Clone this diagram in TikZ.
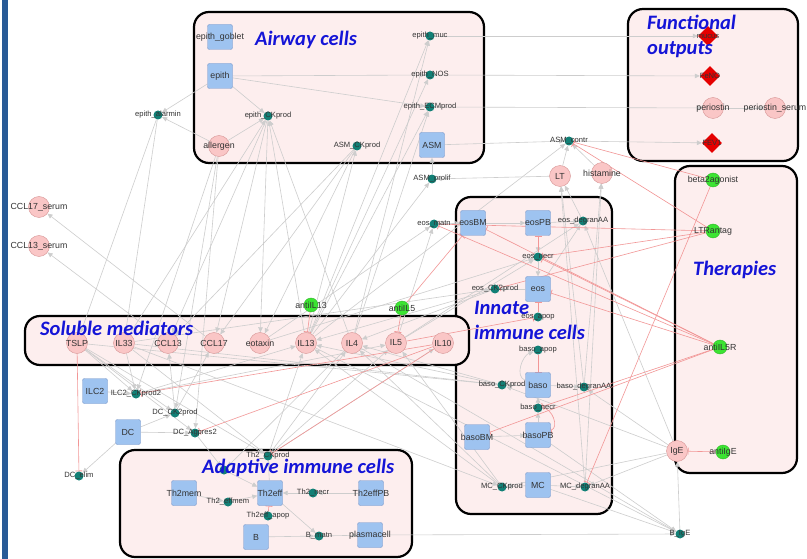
\documentclass[tikz,border=0pt]{standalone}
\usepackage{fontspec}
\setmainfont{Liberation Sans}
\newfontfamily\ttlfont{Carlito}
\usepackage{tikz}
\usetikzlibrary{arrows.meta}
\usetikzlibrary{shapes.geometric}

\definecolor{cellblue}{RGB}{158,195,240}
\definecolor{celledge}{RGB}{120,150,200}
\definecolor{medpink}{RGB}{250,198,198}
\definecolor{mededge}{RGB}{215,150,150}
\definecolor{proct}{RGB}{18,128,118}
\definecolor{druggreen}{RGB}{60,228,50}
\definecolor{boxfill}{RGB}{253,238,238}
\definecolor{ttlblue}{RGB}{20,20,215}
\definecolor{actgray}{RGB}{205,205,205}
\definecolor{inhred}{RGB}{242,150,150}
\definecolor{barblue}{RGB}{40,90,150}

\pgfdeclarelayer{boxes}
\pgfdeclarelayer{wires}
\pgfsetlayers{boxes,wires,main}

\tikzset{
  blbl/.style={font=\fontsize{8.8}{10}\selectfont,text=black!80},
  plbl/.style={font=\fontsize{7.6}{8}\selectfont,text=black!80},
  cell/.style={rectangle,rounded corners=2pt,fill=cellblue,draw=celledge,minimum size=25pt,inner sep=0pt,label={[blbl]center:#1}},
  med/.style={circle,fill=medpink,draw=mededge,minimum size=21pt,inner sep=0pt,label={[blbl]center:#1}},
  proc/.style={circle,fill=proct,minimum size=9pt,inner sep=0pt,label={[plbl]center:#1}},
  drug/.style={circle,fill=druggreen,draw=druggreen!80!black,minimum size=14pt,inner sep=0pt,label={[blbl]center:#1}},
  outp/.style={diamond,fill=red!90!black,minimum size=20pt,inner sep=0pt,label={[plbl]center:#1}},
  grp/.style={draw=black,line width=2.2pt,rounded corners=15pt,fill=boxfill},
  ttl/.style={font=\ttlfont\bfseries\itshape\fontsize{20.5}{25}\selectfont,text=ttlblue,align=left,anchor=west,inner sep=0pt},
  act/.style={draw=actgray,line width=0.6pt,-{Triangle[length=5pt,width=4.5pt]}},
  inh/.style={draw=inhred,line width=0.6pt,-{Bar[width=7pt,line width=0.8pt]}},
}

\begin{document}
\begin{tikzpicture}[x=1pt,y=-1pt]
\useasboundingbox (0,0) rectangle (807,559);

% groups
\begin{pgfonlayer}{boxes}
\fill[white] (0,0) rectangle (807,559);
\fill[barblue] (2,0) rectangle (8,559);
\draw[grp] (194,12) rectangle (484,163);
\draw[grp] (628,9) rectangle (798,161);
\draw[grp] (675,166) rectangle (797,473);
\draw[grp] (456,197) rectangle (612,514);
\draw[grp] (25,316) rectangle (469,365);
\draw[grp] (120,450) rectangle (412,557);
\end{pgfonlayer}

% airway cells
\node[cell=epith\_goblet] (epgob) at (220,37) {};
\node[cell=epith] (epith) at (220,76) {};
\node[med=allergen] (allergen) at (219,146) {};
\node[proc=epith\_alarmin] (epalarm) at (158,115) {};
\node[proc=epith\_CKprod] (epCK) at (268,116) {};
\node[proc=epith\_muc] (epmuc) at (430,36) {};
\node[proc=epith\_NOS] (epNOS) at (430,75) {};
\node[proc=epith\_ECMprod] (epECM) at (430,107) {};
\node[cell=ASM] (ASM) at (432,145) {};
\node[proc=ASM\_CKprod] (ASMCK) at (357,146) {};
\node[proc=ASM\_prolif] (ASMprolif) at (432,179) {};
\node[proc=ASM\_contr] (ASMcontr) at (569,141) {};

% functional outputs
\node[outp=mucus] (mucus) at (708,36) {};
\node[outp=FeNO] (FeNO) at (710,76) {};
\node[med=periostin] (periostin) at (713,108) {};
\node[med=periostin\_serum] (periostinS) at (775,108) {};
\node[outp=FEV1] (FEV1) at (712,143) {};
\node[med=LT] (LT) at (560,176) {};
\node[med=histamine] (histamine) at (602,173) {};

% therapies
\node[drug=beta2agonist] (beta2ag) at (713,180) {};
\node[drug=LTRantag] (LTRantag) at (713,231) {};
\node[drug=antiIL5R] (antiIL5R) at (720,347) {};
\node[drug=antiIgE] (antiIgE) at (723,452) {};
\node[med=IgE] (IgE) at (677,451) {};
\node[proc=B\_IgE] (BIgE) at (680,534) {};

% soluble mediators
\node[med=CCL17\_serum] (CCL17S) at (39,207) {};
\node[med=CCL13\_serum] (CCL13S) at (39,246) {};
\node[med=TSLP] (TSLP) at (77,343) {};
\node[med=IL33] (IL33) at (124,343) {};
\node[med=CCL13] (CCL13) at (168,343) {};
\node[med=CCL17] (CCL17) at (214,343) {};
\node[med=eotaxin] (eotaxin) at (260,343) {};
\node[med=IL13] (IL13) at (306,343) {};
\node[med=IL4] (IL4) at (352,343) {};
\node[med=IL5] (IL5) at (396,343) {};
\node[med=IL10] (IL10) at (443,343) {};
\node[drug=antiIL13] (antiIL13) at (311,305) {};
\node[drug=antiIL5] (antiIL5) at (402,308) {};

% innate immune cells
\node[proc=eos\_matn] (eosmatn) at (434,224) {};
\node[cell=eosBM] (eosBM) at (473,223) {};
\node[cell=eosPB] (eosPB) at (538,223) {};
\node[proc=eos\_degranAA] (eosdeg) at (583,221) {};
\node[proc=eos\_necr] (eosnecr) at (538,257) {};
\node[cell=eos] (eos) at (538,289) {};
\node[proc=eos\_CK2prod] (eosCK) at (495,289) {};
\node[proc=eos\_apop] (eosapop) at (538,317) {};
\node[proc=baso\_apop] (basoapop) at (538,350) {};
\node[cell=baso] (baso) at (538,385) {};
\node[proc=baso\_CKprod] (basoCK) at (502,385) {};
\node[proc=baso\_degranAA] (basodeg) at (584,387) {};
\node[proc=baso\_necr] (basonecr) at (538,408) {};
\node[cell=basoPB] (basoPB) at (538,435) {};
\node[cell=basoBM] (basoBM) at (477,437) {};
\node[cell=MC] (MC) at (538,485) {};
\node[proc=MC\_CKprod] (MCCK) at (502,487) {};
\node[proc=MC\_degranAA] (MCdeg) at (585,487) {};

% ILC2 and DC
\node[cell=ILC2] (ILC2) at (95,391) {};
\node[proc=ILC2\_CKprod2] (ILC2CK) at (136,394) {};
\node[proc=DC\_CK2prod] (DCCK) at (175,413) {};
\node[cell=DC] (DC) at (128,432) {};
\node[proc=DC\_Agpres2] (DCag) at (195,433) {};
\node[proc=DC\_elim] (DCelim) at (79,476) {};
\node[proc=Th2\_CKprod] (Th2CK) at (268,456) {};

% adaptive immune cells
\node[proc={}] (Th2diff) at (224,470) {};
\node[cell=Th2mem] (Th2mem) at (184,493) {};
\node[proc=Th2\_effmem] (Th2effmem) at (228,502) {};
\node[cell=Th2eff] (Th2eff) at (270,493) {};
\node[proc=Th2eff\_apop] (Th2apop) at (268,516) {};
\node[proc=Th2\_necr] (Th2necr) at (313,493) {};
\node[cell=Th2effPB] (Th2effPB) at (371,493) {};
\node[cell=B] (B) at (256,537) {};
\node[proc=B\_matn] (Bmatn) at (319,536) {};
\node[cell=plasmacell] (plasmacell) at (370,535) {};

% titles
\node[ttl] (tAirway) at (255,40) {Airway cells};
\node[ttl] (tOut) at (647,36) {Functional\\outputs};
\node[ttl] (tTher) at (693,270) {Therapies};
\node[ttl] (tInnate) at (474,320) {Innate\\immune cells};
\node[ttl] (tSol) at (40,328) {Soluble mediators};
\node[ttl] (tAdapt) at (202,468) {Adaptive immune cells};

\begin{pgfonlayer}{wires}
\foreach \a/\b in {epith/epalarm, epith/epCK, epith/epNOS, epith/epECM,
  allergen/epalarm, allergen/epCK, allergen/DCag, allergen/DCCK, allergen/ILC2CK,
  epmuc/mucus, epNOS/FeNO, epECM/periostin, ASMcontr/FEV1, periostin/periostinS,
  ASMprolif/ASM, ASM/ASMcontr,
  IL13/epmuc, IL13/epNOS, IL13/epECM, IL13/epCK, IL13/ASMprolif, IL13/ASMCK, IL13/ASMcontr,
  IL4/epCK, IL4/epECM, IL4/epmuc, IL33/epCK, LT/ASMcontr, histamine/ASMcontr, LT/ASMprolif,
  epalarm/TSLP, epalarm/IL33, epCK/CCL17, epCK/CCL13, epCK/eotaxin,
  ASMCK/eotaxin, ASMCK/CCL17, ASMCK/CCL13, CCL17/CCL17S, CCL13/CCL13S,
  ILC2/ILC2CK, TSLP/ILC2CK, IL33/ILC2CK, ILC2CK/IL13, ILC2CK/IL5,
  DC/DCCK, DC/DCag, DC/DCelim, TSLP/DCag, TSLP/DCCK, DCCK/CCL17, DCCK/CCL13,
  DCag/Th2diff, IL4/Th2diff, Th2diff/Th2eff, Th2mem/Th2effmem, Th2effmem/Th2eff,
  Th2eff/Th2CK, Th2CK/IL4, Th2CK/IL5, Th2CK/IL13, Th2CK/IL10, IL33/Th2CK, TSLP/Th2CK,
  Th2effPB/Th2necr, Th2necr/Th2eff, Th2eff/Bmatn, B/Bmatn, Bmatn/plasmacell, plasmacell/BIgE,
  eosmatn/eosBM, eosBM/eosPB, eosPB/eosnecr, eosnecr/eos, eos/eosCK, eosPB/eosdeg, eos/eosdeg,
  eosCK/IL13, eosCK/IL4, IL5/eosmatn, eotaxin/eosmatn, eotaxin/eosnecr, IL5/eosnecr, IL33/eosCK, IL5/eosdeg,
  baso/basoCK, baso/basodeg, basoBM/basoPB, basoPB/basonecr, basonecr/baso,
  basoCK/IL4, basoCK/IL13, IL33/basoCK, TSLP/basoCK,
  MC/MCCK, MC/MCdeg, MCCK/IL4, MCCK/IL5, MCCK/IL13, IL33/MCCK,
  IgE/MCdeg, IgE/basodeg, IgE/eosdeg, IgE/MCCK, IgE/basoCK,
  MCdeg/LT, MCdeg/histamine, basodeg/histamine, basodeg/LT, eosdeg/LT,
  IL4/BIgE, IL13/BIgE, MC/BIgE, basoPB/BIgE, BIgE/IgE}
  \draw[act] (\a) -- (\b);
\draw[act] (baso) to[out=160,in=200] (basoapop);

\foreach \a/\b in {TSLP/DCelim, antiIgE/IgE, antiIL13/IL13, antiIL5/IL5, antiIL5/eosBM,
  beta2ag/ASMcontr, beta2ag/MCdeg, LTRantag/ASMcontr, LTRantag/eosnecr, LTRantag/eosmatn, LTRantag/eosCK,
  antiIL5R/eosBM, antiIL5R/eosnecr, antiIL5R/eos, antiIL5R/basoBM, antiIL5R/basonecr, antiIL5R/eosmatn,
  eosnecr/eosPB, eosapop/eos, basoapop/baso, Th2apop/Th2eff,
  IL10/DCag, IL10/ILC2CK, IL10/Th2CK, IL5/eosapop}
  \draw[inh] (\a) -- (\b);
\draw[inh] (basonecr) to[out=0,in=20] (basoPB);
\end{pgfonlayer}
\end{tikzpicture}
\end{document}
